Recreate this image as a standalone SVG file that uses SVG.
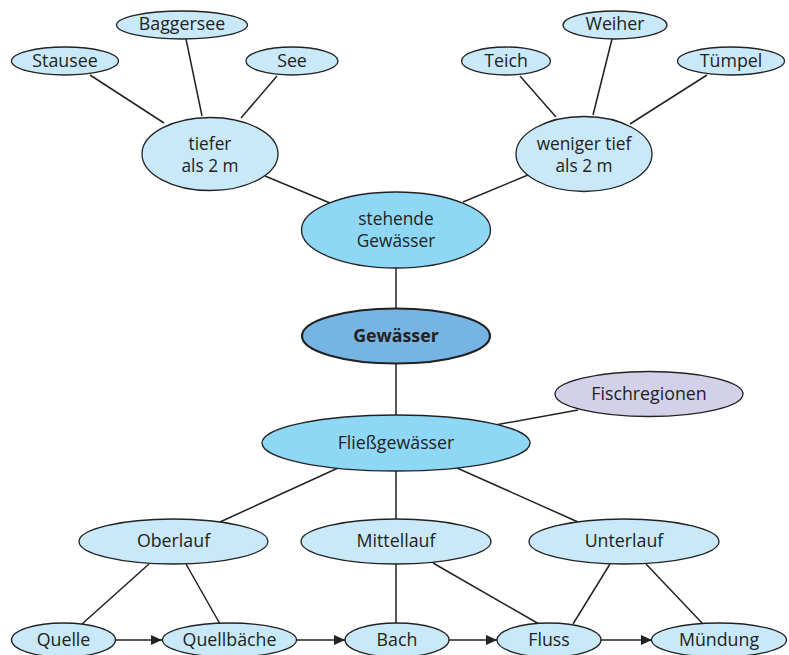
<svg xmlns="http://www.w3.org/2000/svg" width="789" height="655" viewBox="0 0 789 655">
<style>
.n{fill:#c9e9f9;stroke:#222;stroke-width:1.3}
.m{fill:#8ed8f6;stroke:#222;stroke-width:1.3}
.g{fill:#76b4e3;stroke:#222;stroke-width:2.2}
.f{fill:#d3d1e9;stroke:#222;stroke-width:1.3}
text{font-family:"Open Sans","Noto Sans","Liberation Sans",sans-serif;font-size:17.8px;fill:#222;text-anchor:middle}
.t{font-size:17.3px}
.b{font-weight:bold}
#edges line{stroke:#222;stroke-width:1.5}
.a{marker-end:url(#ah)}
</style>
<defs>
<marker id="ah" markerUnits="userSpaceOnUse" markerWidth="12" markerHeight="12" refX="11" refY="6" orient="auto">
<path d="M0,1 L11,6 L0,11 Z" fill="#222"/>
</marker>
</defs>
<g id="edges">
<line x1="90" y1="75" x2="164" y2="123"/>
<line x1="186" y1="39" x2="202" y2="116"/>
<line x1="277" y1="76" x2="241" y2="118"/>
<line x1="520" y1="76" x2="556" y2="117"/>
<line x1="612" y1="39" x2="593" y2="115"/>
<line x1="707" y1="75" x2="630" y2="124"/>
<line x1="265" y1="176" x2="330" y2="203"/>
<line x1="528" y1="175" x2="463" y2="202"/>
<line x1="396" y1="268" x2="396" y2="308"/>
<line x1="396" y1="363" x2="396" y2="416"/>
<line x1="495" y1="425" x2="578" y2="410"/>
<line x1="338" y1="468" x2="220" y2="522"/>
<line x1="396" y1="471" x2="396" y2="520"/>
<line x1="457" y1="468" x2="578" y2="522"/>
<line x1="149" y1="564" x2="82" y2="624"/>
<line x1="186" y1="564" x2="220" y2="624"/>
<line x1="396" y1="564" x2="396" y2="623"/>
<line x1="433" y1="563" x2="539" y2="624"/>
<line x1="610" y1="564" x2="573" y2="624"/>
<line x1="646" y1="564" x2="703" y2="624"/>
<line class="a" x1="115" y1="640" x2="162" y2="640"/>
<line class="a" x1="296" y1="640" x2="345" y2="640"/>
<line class="a" x1="449" y1="640" x2="497" y2="640"/>
<line class="a" x1="601" y1="640" x2="652" y2="640"/>
</g>
<g id="stausee"><ellipse class="n" cx="65" cy="61" rx="53.5" ry="14"/><text x="65" y="67">Stausee</text></g>
<g id="baggersee"><ellipse class="n" cx="182" cy="25" rx="65.5" ry="14"/><text x="182" y="30">Baggersee</text></g>
<g id="see"><ellipse class="n" cx="292" cy="61" rx="46" ry="14"/><text x="292" y="67">See</text></g>
<g id="tiefer"><ellipse class="n" cx="210" cy="154" rx="68" ry="36.5"/><text class="t" x="210" y="150">tiefer</text><text class="t" x="210" y="172">als 2 m</text></g>
<g id="teich"><ellipse class="n" cx="506" cy="61" rx="44.5" ry="14"/><text x="506" y="67">Teich</text></g>
<g id="weiher"><ellipse class="n" cx="615" cy="25" rx="52" ry="14"/><text x="615" y="30">Weiher</text></g>
<g id="tuempel"><ellipse class="n" cx="731" cy="61" rx="53.5" ry="14"/><text x="731" y="67">Tümpel</text></g>
<g id="weniger"><ellipse class="n" cx="584" cy="154" rx="68" ry="37.5"/><text class="t" x="584" y="150">weniger tief</text><text class="t" x="584" y="172">als 2 m</text></g>
<g id="stehende"><ellipse class="m" cx="396" cy="230" rx="94.5" ry="38"/><text class="t" x="396" y="225">stehende</text><text class="t" x="396" y="247">Gewässer</text></g>
<g id="gewaesser"><ellipse class="g" cx="396" cy="336" rx="94" ry="27.5"/><text class="b" x="396" y="342">Gewässer</text></g>
<g id="fischregionen"><ellipse class="f" cx="649" cy="394" rx="94" ry="22.5"/><text x="649" y="400">Fischregionen</text></g>
<g id="fliess"><ellipse class="m" cx="396" cy="443" rx="134" ry="28"/><text x="396" y="449">Fließgewässer</text></g>
<g id="oberlauf"><ellipse class="n" cx="173.5" cy="541.5" rx="94.5" ry="22.5"/><text x="173.5" y="547">Oberlauf</text></g>
<g id="mittellauf"><ellipse class="n" cx="396" cy="541.5" rx="95" ry="22.5"/><text x="396" y="547">Mittellauf</text></g>
<g id="unterlauf"><ellipse class="n" cx="624" cy="541.5" rx="95" ry="22.5"/><text x="624" y="547">Unterlauf</text></g>
<g id="quelle"><ellipse class="n" cx="63.5" cy="640" rx="52" ry="17"/><text x="63.5" y="646">Quelle</text></g>
<g id="quellbaeche"><ellipse class="n" cx="229.5" cy="640" rx="67" ry="17"/><text x="229.5" y="646">Quellbäche</text></g>
<g id="bach"><ellipse class="n" cx="397" cy="640" rx="52" ry="17"/><text x="397" y="646">Bach</text></g>
<g id="fluss"><ellipse class="n" cx="549" cy="640" rx="52" ry="17"/><text x="549" y="646">Fluss</text></g>
<g id="muendung"><ellipse class="n" cx="719" cy="640" rx="67.5" ry="17"/><text x="719" y="646">Mündung</text></g>
</svg>
